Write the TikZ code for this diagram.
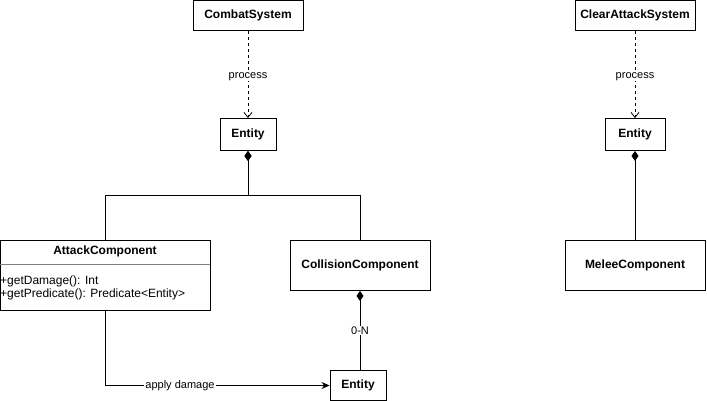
\documentclass[tikz,border=0pt]{standalone}
\usepackage{fontspec}
\setmainfont{Liberation Sans}
\usetikzlibrary{arrows.meta}
\begin{document}
\begin{tikzpicture}[x=1pt,y=-1pt,
  box/.style={draw,line width=0.9pt,fill=white,inner sep=0pt,font=\bfseries\fontsize{12}{14}\selectfont},
  lbl/.style={fill=white,inner sep=1pt,font=\fontsize{11}{13}\selectfont},
  dep/.style={dashed,dash pattern=on 3pt off 3pt,line width=0.8pt,-{Straight Barb[length=5pt,width=8pt]}},
  comp/.style={line width=0.9pt,{Diamond[length=10pt,width=7pt]}-},
  assoc/.style={line width=0.9pt,-{Stealth[length=8pt,width=7pt]}}]
\useasboundingbox (0,0) rectangle (707,401);
% left column
\node[box,minimum width=110pt,minimum height=30pt] (cs) at (248,15.5) {CombatSystem};
\node[box,minimum width=56pt,minimum height=32pt] (e1) at (248,134.5) {Entity};
\node[box,minimum width=140pt,minimum height=50pt] (coll) at (360,265.5) {CollisionComponent};
\node[box,minimum width=56pt,minimum height=30pt] (e3) at (358,385.5) {Entity};
% attack component (class with members)
\node[draw,line width=0.9pt,minimum width=210pt,minimum height=70pt,inner sep=0pt] (atk) at (105,275.5) {};
\draw[line width=0.4pt,gray] (atk.west |- 0,264.5) -- (atk.east |- 0,264.5);
\node[font=\bfseries\fontsize{12}{14}\selectfont] (atkt) at (105,251) {AttackComponent};
\node[anchor=west,inner sep=0pt,font=\fontsize{12}{14}\selectfont] (m1) at (0,281) {+getDamage(): Int};
\node[anchor=west,inner sep=0pt,font=\fontsize{12}{14}\selectfont] (m2) at (0,294) {+getPredicate(): Predicate<Entity>};
% right column
\node[box,minimum width=120pt,minimum height=30pt] (cas) at (635,15.5) {ClearAttackSystem};
\node[box,minimum width=60pt,minimum height=32pt] (e2) at (635,134.5) {Entity};
\node[box,minimum width=140pt,minimum height=50pt] (mel) at (635,265.5) {MeleeComponent};
% connectors
\draw[dep] (cs) -- node[lbl,pos=0.52] {process} (e1);
\draw[dep] (cas) -- node[lbl,pos=0.52] {process} (e2);
\coordinate (j) at (248,195.5);
\draw[comp] (e1.south) -- (j) -| (atk.north);
\draw[comp] (e1.south) -- (j) -| (coll.north);
\draw[comp] (e2.south) -- (mel.north);
\draw[comp] (coll.south) -- node[lbl,pos=0.5] {0-N} (coll.south |- e3.north);
\draw[assoc] (atk.south) |- node[lbl,pos=0.667] {apply damage} (e3.west);
\end{tikzpicture}
\end{document}
